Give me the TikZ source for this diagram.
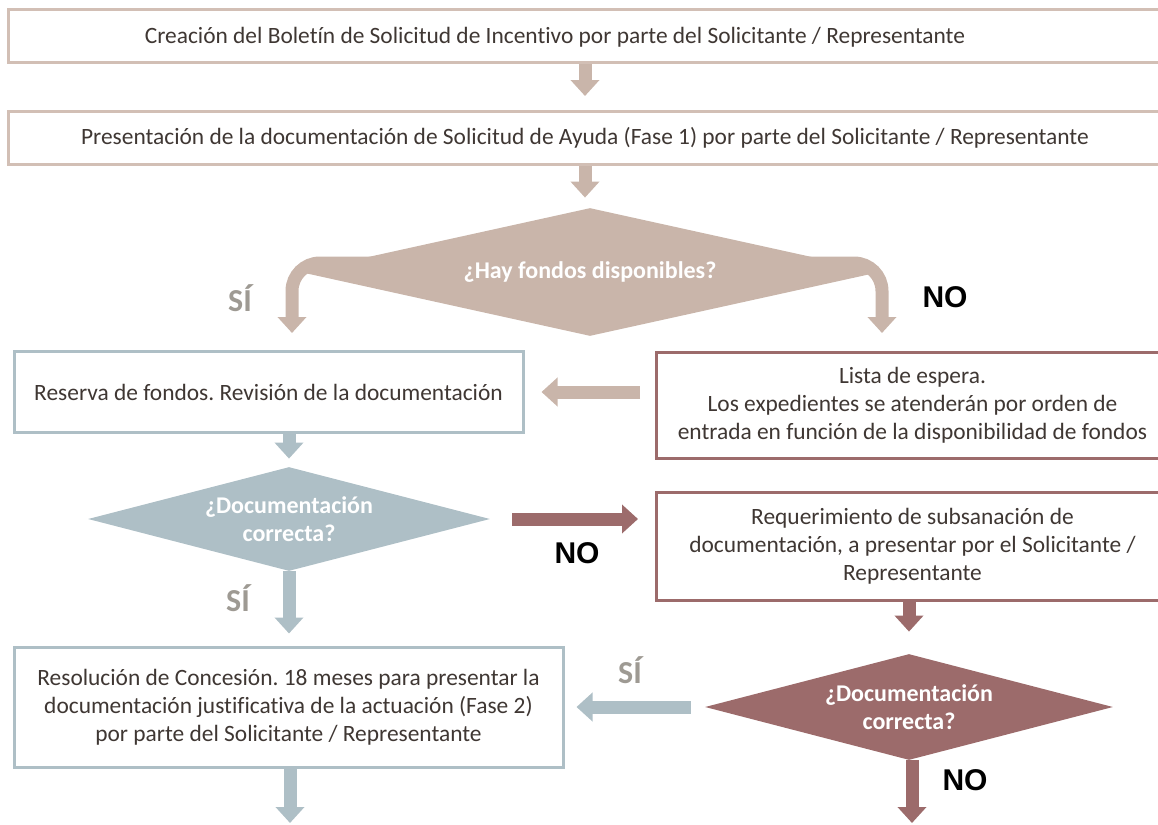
\documentclass[tikz,border=0pt]{standalone}
\usepackage{fontspec}
\setmainfont{Carlito}[Ligatures=NoCommon]
\newfontfamily\nofont{Liberation Sans}
\usetikzlibrary{shapes.geometric,arrows.meta}
\definecolor{tanc}{HTML}{C9B5AA}
\definecolor{tanl}{HTML}{D2BFB5}
\definecolor{bluec}{HTML}{AEBFC6}
\definecolor{mauvec}{HTML}{9C6B6B}
\definecolor{txtc}{HTML}{3F3733}
\definecolor{sic}{HTML}{9E9A93}
\frenchspacing
\begin{document}
\begin{tikzpicture}[
	  x=0.5pt, y=-0.5pt,
	  box/.style={draw, line width=1.5pt, rectangle, fill=white, align=center, inner sep=0pt,
	    font=\fontsize{11.7}{14}\selectfont, text=txtc},
	  tanbox/.style={box, draw=tanl},
	  bluebox/.style={box, draw=bluec},
	  mauvebox/.style={box, draw=mauvec},
	  decision/.style={diamond, inner sep=0pt, align=center, text=white,
	    font=\fontsize{12}{14}\selectfont\bfseries},
	  barrow/.style={-{Triangle[width=14pt,length=8pt]}, line width=6.5pt},
	  silab/.style={font=\fontsize{16}{16}\selectfont\bfseries, text=sic},
	  nolab/.style={font=\fontsize{15}{15}\selectfont\nofont\bfseries, text=black}]
	  \useasboundingbox (0,0) rectangle (1158,825);
	  % top boxes
	  \node[tanbox, minimum width=577pt, minimum height=26.5pt] (crea) at (585,36) {};
	  \node[font=\fontsize{11.7}{14}\selectfont, text=txtc] (creaT) at (555,37) {Creación del Boletín de Solicitud de Incentivo por parte del Solicitante / Representante};
	  \node[tanbox, minimum width=577pt, minimum height=26.5pt] (pres) at (585,138) {Presentación de la documentación de Solicitud de Ayuda (Fase 1) por parte del Solicitante / Representante};
	  \draw[barrow, tanc, shorten >=7pt] (crea.south) -- (crea.south |- pres.north);
	  % first decision
	  \coordinate (siA) at (292,333);
	  \coordinate (noA) at (882,333);
	  \draw[barrow, tanc, rounded corners=14pt] (590,263) -| (siA);
	  \draw[barrow, tanc, rounded corners=14pt] (590,263) -| (noA);
	  \node[decision, fill=tanc, aspect=4.5, minimum width=290pt, minimum height=64pt] (fondos) at (590,272) {¿Hay fondos disponibles?};
	  \draw[barrow, tanc, shorten >=5pt] (pres.south) -- (pres.south |- fondos.north);
	  \node[silab] (si1) at (240,298) {SÍ};
	  \node[nolab] (no1) at (945,297) {NO};
	  % second row
	  \node[bluebox, minimum width=254.5pt, minimum height=40.5pt] (reserva) at (268.5,392) {Reserva de fondos. Revisión de la documentación};
	  \node[mauvebox, minimum width=256pt, minimum height=53pt, anchor=west] (lista) at (655,405) {Lista de espera.\\Los expedientes se atenderán por orden de\\entrada en función de la disponibilidad de fondos};
	  \draw[barrow, tanc, shorten <=7.5pt, shorten >=8.5pt] (lista.west |- reserva.east) -- (reserva.east);
	  % second decision
	  \node[decision, fill=bluec, aspect=4, minimum width=201pt, minimum height=52pt] (docA) at (289,519) {¿Documentación\\correcta?};
	  \draw[barrow, bluec, shorten >=4pt] (reserva.south -| docA.north) -- (docA.north);
	  \node[mauvebox, minimum width=256pt, minimum height=54pt, anchor=west] (req) at (655,546) {Requerimiento de subsanación de\\documentación, a presentar por el Solicitante /\\Representante};
	  \draw[barrow, mauvec, shorten <=11pt, shorten >=8.5pt] (docA.east) -- (docA.east -| req.west);
	  \node[nolab] (no2) at (577,553) {NO};
	  % bottom row
	  \node[bluebox, minimum width=274.5pt, minimum height=60pt] (resol) at (288.5,707) {Resolución de Concesión. 18 meses para presentar la\\documentación justificativa de la actuación (Fase 2)\\por parte del Solicitante / Representante};
	  \draw[barrow, bluec, shorten >=6pt] (docA.south) -- (docA.south |- resol.north);
	  \node[silab] (si2) at (238,598) {SÍ};
	  \node[decision, fill=mauvec, aspect=4, minimum width=204pt, minimum height=53pt] (docB) at (909,707) {¿Documentación\\correcta?};
	  \draw[barrow, mauvec, shorten >=11pt] (req.south -| docB.north) -- (docB.north);
	  \draw[barrow, bluec, shorten <=7pt, shorten >=6pt] (docB.west) -- (docB.west -| resol.east);
	  \node[silab] (si3) at (630,670) {SÍ};
	  \coordinate (docEnd) at (912,823);
	  \coordinate (resolEnd) at (290,823);
	  \draw[barrow, mauvec] (docB.south -| docEnd) -- (docEnd);
	  \node[nolab] (no3) at (965,780) {NO};
	  \draw[barrow, bluec] (resol.south -| resolEnd) -- (resolEnd);
	\end{tikzpicture}
\end{document}
